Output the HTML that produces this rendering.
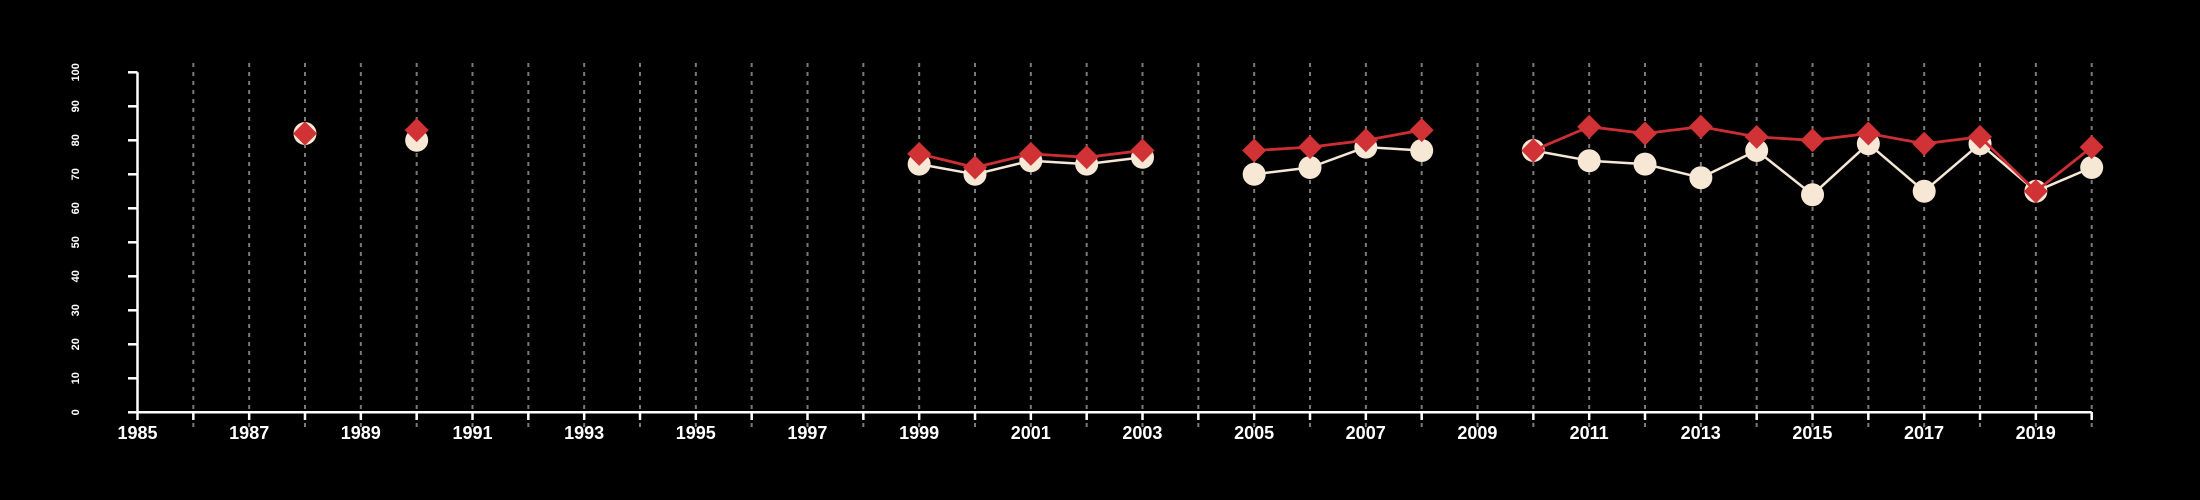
<!DOCTYPE html>
<html><head><meta charset="utf-8"><style>
html,body{margin:0;padding:0;background:#000;}
svg{display:block;}
text{font-family:"Liberation Sans",Arial,sans-serif;fill:#fff;font-weight:bold;}
</style></head><body>
<svg id="s" width="2200" height="500" viewBox="0 0 2200 500" xmlns="http://www.w3.org/2000/svg">
<rect width="2200" height="500" fill="#000"/>
<g id="grid"></g>
<line x1="137.5" y1="412.3" x2="2091.7" y2="412.3" stroke="#fff" stroke-width="2.5"/>
<line x1="137.5" y1="72.3" x2="137.5" y2="412.3" stroke="#fff" stroke-width="2.5"/>
<g id="ticks"></g>
<g font-size="18" text-anchor="middle">
<text x="137.5" y="439">1985</text><text x="249.2" y="439">1987</text><text x="360.8" y="439">1989</text>
<text x="472.5" y="439">1991</text><text x="584.1" y="439">1993</text><text x="695.8" y="439">1995</text>
<text x="807.4" y="439">1997</text><text x="919.1" y="439">1999</text><text x="1030.8" y="439">2001</text>
<text x="1142.4" y="439">2003</text><text x="1254.1" y="439">2005</text><text x="1365.7" y="439">2007</text>
<text x="1477.4" y="439">2009</text><text x="1589.1" y="439">2011</text><text x="1700.7" y="439">2013</text>
<text x="1812.4" y="439">2015</text><text x="1924.0" y="439">2017</text><text x="2035.7" y="439">2019</text>
</g>
<g font-size="11" text-anchor="middle">
<text transform="translate(79,412.3) rotate(-90)">0</text>
<text transform="translate(79,378.3) rotate(-90)">10</text>
<text transform="translate(79,344.3) rotate(-90)">20</text>
<text transform="translate(79,310.3) rotate(-90)">30</text>
<text transform="translate(79,276.3) rotate(-90)">40</text>
<text transform="translate(79,242.3) rotate(-90)">50</text>
<text transform="translate(79,208.3) rotate(-90)">60</text>
<text transform="translate(79,174.3) rotate(-90)">70</text>
<text transform="translate(79,140.3) rotate(-90)">80</text>
<text transform="translate(79,106.3) rotate(-90)">90</text>
<text transform="translate(79,72.3) rotate(-90)">100</text>
</g>
<g id="data"></g>
</svg>
<script>
var NS="http://www.w3.org/2000/svg";
function X(y){return 137.5+(y-1985)*55.834;}
function Y(v){return 412.3-v*3.4;}
function el(p,t,a){var e=document.createElementNS(NS,t);for(var k in a)e.setAttribute(k,a[k]);p.appendChild(e);return e;}
var g=document.getElementById('grid'),tk=document.getElementById('ticks'),d=document.getElementById('data');
for(var y=1986;y<=2020;y++)el(g,'line',{x1:X(y),x2:X(y),y1:63,y2:427,stroke:'#7a7a7a','stroke-width':2,'stroke-dasharray':'4,5'});
for(var y=1985;y<=2020;y++)el(tk,'line',{x1:X(y),x2:X(y),y1:412,y2:420,stroke:'#fff','stroke-width':2.5});
for(var v=0;v<=100;v+=10)el(tk,'line',{x1:128,x2:137.5,y1:Y(v),y2:Y(v),stroke:'#fff','stroke-width':2.5});
var c={1988:82,1990:80,1999:73,2000:70,2001:74,2002:73,2003:75,2005:70,2006:72,2007:78,2008:77,2010:77,2011:74,2012:73,2013:69,2014:77,2015:64,2016:79,2017:65,2018:79,2019:65,2020:72};
var r={1988:82,1990:83,1999:76,2000:72,2001:76,2002:75,2003:77,2005:77,2006:78,2007:80,2008:83,2010:77,2011:84,2012:82,2013:84,2014:81,2015:80,2016:82,2017:79,2018:81,2019:65,2020:78};
function lines(o,col,w){for(var y=1985;y<2020;y++)if(o[y]!=null&&o[y+1]!=null)el(d,'line',{x1:X(y),y1:Y(o[y]),x2:X(y+1),y2:Y(o[y+1]),stroke:col,'stroke-width':w});}
lines(c,'#f5e8d6',2.5);
for(var k in c)el(d,'circle',{cx:X(+k),cy:Y(c[k]),r:11.5,fill:'#f7e8d5'});
lines(r,'#cc2e33',2.8);
for(var k in r){var x=X(+k),yy=Y(r[k]),s=12;el(d,'polygon',{points:(x)+','+(yy-s)+' '+(x+s)+','+yy+' '+x+','+(yy+s)+' '+(x-s)+','+yy,fill:'#d03236'});}
</script>
</body></html>
